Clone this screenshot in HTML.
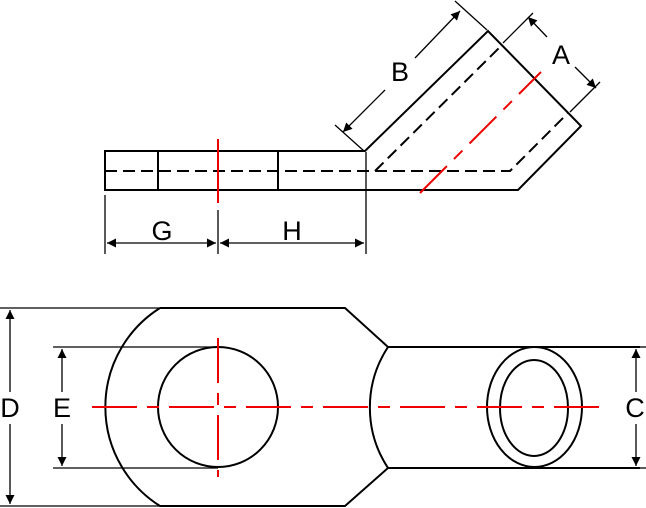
<!DOCTYPE html>
<html><head><style>html,body{margin:0;padding:0;background:#fff}svg{display:block}</style></head><body>
<svg width="646" height="508" viewBox="0 0 646 508" xmlns="http://www.w3.org/2000/svg" font-family="Liberation Sans, sans-serif">
<defs>
<marker id="ar" viewBox="0 0 10 10" refX="10" refY="5" markerWidth="17" markerHeight="9" markerUnits="userSpaceOnUse" orient="auto-start-reverse"><path d="M0,0 L10,5 L0,10 z" fill="#000"/></marker>
</defs>
<g fill="none" stroke="#000" stroke-width="2">
<path d="M105,151 H365 L488,31 L581,126 L518,190 H105 Z"/>
<line x1="158" y1="151" x2="158" y2="190"/>
<line x1="278" y1="151" x2="278" y2="190"/>
<path d="M105,171 H510 L568,113 M375,171 L501,46" stroke-dasharray="12,6"/>
</g>
<g fill="none" stroke="#000" stroke-width="1.3">
<line x1="366" y1="152" x2="366" y2="254"/>
<line x1="105" y1="195" x2="105" y2="254"/>
<line x1="218" y1="210" x2="218" y2="254"/>
<line x1="107" y1="243" x2="216" y2="243" marker-start="url(#ar)" marker-end="url(#ar)"/>
<line x1="220" y1="243" x2="364" y2="243" marker-start="url(#ar)" marker-end="url(#ar)"/>
<line x1="335" y1="125" x2="364" y2="151"/>
<line x1="455" y1="1" x2="487" y2="30"/>
<line x1="343" y1="132" x2="385" y2="90" marker-start="url(#ar)"/>
<line x1="415" y1="58" x2="460" y2="11" marker-end="url(#ar)"/>
<line x1="503" y1="43" x2="533" y2="13"/>
<line x1="570" y1="112" x2="600" y2="82"/>
<line x1="547" y1="37" x2="528" y2="17" marker-end="url(#ar)"/>
<line x1="575" y1="67" x2="596" y2="88" marker-end="url(#ar)"/>
</g>
<line x1="218" y1="139" x2="218" y2="203" stroke="#e00" stroke-width="2"/>
<line x1="420" y1="193" x2="541" y2="72" stroke="#e00" stroke-width="2" stroke-dasharray="38,10,12,10"/>
<g font-size="27" text-anchor="middle" fill="#000">
<text x="162" y="240">G</text>
<text x="292" y="240">H</text>
<text x="400" y="81">B</text>
<text x="561" y="64">A</text>
</g>
<g fill="none" stroke="#000" stroke-width="2">
<path d="M160,308 H345 L388,347 H640 M640,468 H388 L345,506 H160 A117,117 0 0 1 160,308"/>
<path d="M388,347 A110,110 0 0 0 388,468"/>
<circle cx="218" cy="407" r="60"/>
<ellipse cx="534.5" cy="407" rx="47.5" ry="60"/>
<ellipse cx="534" cy="408" rx="34" ry="48"/>
</g>
<g fill="none" stroke="#000" stroke-width="1.3">
<line x1="0" y1="308" x2="160" y2="308"/>
<line x1="0" y1="506" x2="160" y2="506"/>
<line x1="53" y1="347" x2="218" y2="347"/>
<line x1="53" y1="468" x2="218" y2="468"/>
<line x1="640" y1="347" x2="646" y2="347"/>
<line x1="640" y1="468" x2="646" y2="468"/>
<line x1="10" y1="392" x2="10" y2="310" marker-end="url(#ar)"/>
<line x1="10" y1="424" x2="10" y2="504" marker-end="url(#ar)"/>
<line x1="62" y1="392" x2="62" y2="349" marker-end="url(#ar)"/>
<line x1="62" y1="424" x2="62" y2="466" marker-end="url(#ar)"/>
<line x1="636" y1="392" x2="636" y2="349" marker-end="url(#ar)"/>
<line x1="636" y1="424" x2="636" y2="466" marker-end="url(#ar)"/>
</g>
<line x1="92" y1="407" x2="600" y2="407" stroke="#e00" stroke-width="2" stroke-dasharray="45,10,12,10"/>
<line x1="218" y1="338" x2="218" y2="477" stroke="#e00" stroke-width="2" stroke-dasharray="45,10,12,10"/>
<g font-size="27" text-anchor="middle" fill="#000">
<text x="10" y="417">D</text>
<text x="62" y="417">E</text>
<text x="635" y="417">C</text>
</g>
</svg>
</body></html>
